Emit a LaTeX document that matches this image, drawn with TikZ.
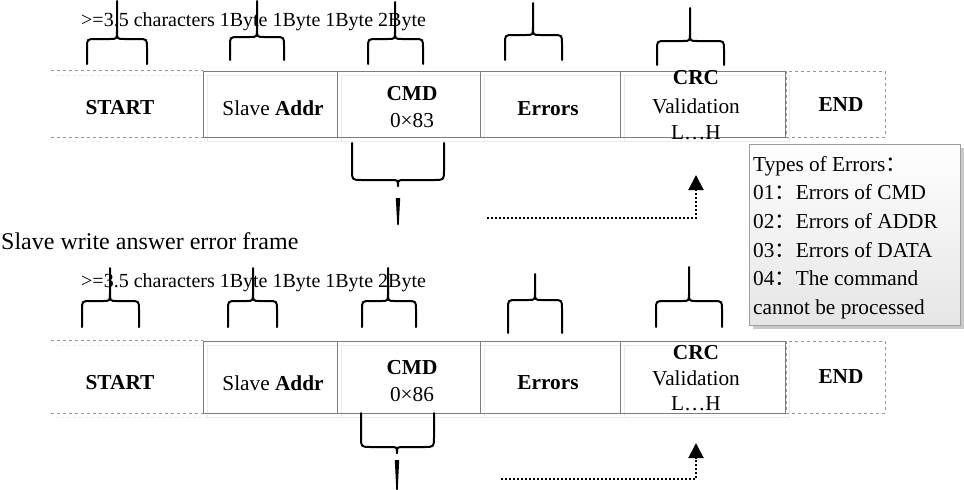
\documentclass[tikz,border=0pt]{standalone}
\usepackage{fontspec}
\setmainfont{Liberation Serif}
\newfontfamily\cjkfont{Noto Sans CJK SC}
\usetikzlibrary{arrows.meta,shadows,calc}
\newcommand\fwc{{\cjkfont ：}}
% upward brace: x1,x2,xm,ybottom,yarc,ytop
\newcommand\upbrace[6]{%
  \draw[bracestyle] (#1,#4) -- (#1,#5+9) .. controls (#1,#5) .. (#1+9,#5) -- (#3-7,#5) .. controls (#3,#5) .. (#3,#5-8) -- (#3,#6);
  \draw[bracestyle] (#2,#4) -- (#2,#5+9) .. controls (#2,#5) .. (#2-9,#5) -- (#3+7,#5) .. controls (#3,#5) .. (#3,#5-8);}
% downward brace: x1,x2,xm,ytop,yarc,ystem1,ystem2
\newcommand\downbrace[7]{%
  \draw[bracestyle] (#1,#4) -- (#1,#5-10) .. controls (#1,#5) .. (#1+10,#5) -- (#3-7,#5) .. controls (#3,#5) .. (#3,#5+6);
  \draw[bracestyle] (#2,#4) -- (#2,#5-10) .. controls (#2,#5) .. (#2-10,#5) -- (#3+7,#5) .. controls (#3,#5) .. (#3,#5+6);
  \fill (#3-2.2,#6) -- (#3+2.2,#6) -- (#3+0.7,#7) -- (#3-0.7,#7) -- cycle;}
\definecolor{framegray}{RGB}{125,125,125}
\definecolor{dashgray}{RGB}{150,150,150}
\definecolor{ghostgray}{RGB}{236,236,236}
\begin{document}
\begin{tikzpicture}[x=1pt,y=-1pt,
  field/.style={draw=framegray, line width=1pt, inner sep=0pt},
  endfield/.style={draw=dashgray, dashed, line width=1pt, inner sep=0pt},
  startfield/.style={inner sep=0pt},
  lbl/.style={inner sep=0pt, font=\fontsize{21.3}{25}\selectfont, align=center},
  hdr/.style={inner sep=0pt, anchor=west, font=\fontsize{20}{24}\selectfont},
  bracestyle/.style={line width=2pt, line cap=round, line join=round},
  dotarrow/.style={line width=2pt, dotted, -{Triangle[length=15pt,width=15pt]}},
  ghost/.style={draw=ghostgray, line width=1pt},
  errbox/.style={draw=gray!75, line width=1pt, top color=white, bottom color=gray!20,
    drop shadow={shadow xshift=3pt, shadow yshift=-3pt, fill=gray!60, opacity=0.7}},
]
\useasboundingbox (0,0) rectangle (964,490);

% ---------- ghost offset copies of the frames ----------
\foreach \yt/\yb in {75/141, 345/417}{
  \draw[ghost] (207,\yt) rectangle (789,\yb);
  \draw[ghost] (341,\yt) -- (341,\yb);
  \draw[ghost] (484,\yt) -- (484,\yb);
  \draw[ghost] (624,\yt) -- (624,\yb);
  \draw[ghost, dashed] (55,\yt) -- (207,\yt);
  \draw[ghost, dashed] (55,\yb) -- (207,\yb);
}

% ================= ROW 1 =================
\node[hdr] (h1) at (81,22) {>=3.5 characters 1Byte 1Byte 1Byte 2Byte};

\node[startfield, minimum width=152pt, minimum height=66pt] (st1) at (127,104) {};
\draw[dashgray, dashed, line width=1pt] (st1.north west) -- (st1.north east);
\draw[dashgray, dashed, line width=1pt] (st1.south west) -- (st1.south east);
\node[field, minimum width=134pt, minimum height=66pt] (sa1) at (270,104) {};
\node[field, minimum width=143pt, minimum height=66pt] (cmd1) at (408.5,104) {};
\node[field, minimum width=140pt, minimum height=66pt] (err1) at (550,104) {};
\node[field, minimum width=165pt, minimum height=66pt] (crc1) at (702.5,104) {};
\node[endfield, minimum width=99pt, minimum height=66pt] (end1) at (835.5,104) {};

\node[lbl] (tst1) at (120,108) {\textbf{START}};
\node[lbl] (tsa1) at (273,108) {Slave \textbf{Addr}};
\node[lbl] (tcmd1) at (412,94) {\textbf{CMD}};
\node[lbl] (tcmdv1) at (412,121) {0×83};
\node[lbl] (terr1) at (548,109) {\textbf{Errors}};
\node[lbl] (tcrc1) at (696,78) {\textbf{CRC}};
\node[lbl] (tval1) at (696,106) {Validation};
\node[lbl] (tlh1) at (696,133) {L…H};
\node[lbl] (tend1) at (841,105) {\textbf{END}};

\upbrace{87}{147}{117}{64}{39}{1}
\upbrace{230}{284}{257}{60}{37}{1}
\upbrace{368}{423}{395}{64}{39}{2}
\upbrace{505}{562}{533}{60}{35}{3}
\upbrace{657}{724}{690}{65}{41}{8}

\downbrace{352}{444}{398}{143}{180}{198}{225}

\coordinate (d1s) at (487,218);
\coordinate (d1t) at (696,175);
\draw[dotarrow] (d1s) -| (d1t);

% ---------- error types box ----------
\node[errbox, minimum width=211pt, minimum height=181pt, anchor=north west] (ebox) at (749,144) {};
\node[anchor=north west, inner sep=0pt, align=left, font=\fontsize{21.3}{28.6}\selectfont] (etext) at (753,156)
 {Types of Errors\fwc\\
  01\fwc Errors of CMD\\
  02\fwc Errors of ADDR\\
  03\fwc Errors of DATA\\
  04\fwc The command\\
  cannot be processed};

% ================= ROW 2 =================
\node[hdr, font=\fontsize{24}{28}\selectfont] (title2) at (1,241) {Slave write answer error frame};
\node[hdr] (h2) at (81,283) {>=3.5 characters 1Byte 1Byte 1Byte 2Byte};

\node[startfield, minimum width=152pt, minimum height=72pt] (st2) at (127,377) {};
\draw[dashgray, dashed, line width=1pt] (st2.north west) -- (st2.north east);
\draw[dashgray, dashed, line width=1pt] (st2.south west) -- (st2.south east);
\node[field, minimum width=134pt, minimum height=72pt] (sa2) at (270,377) {};
\node[field, minimum width=143pt, minimum height=72pt] (cmd2) at (408.5,377) {};
\node[field, minimum width=140pt, minimum height=72pt] (err2) at (550,377) {};
\node[field, minimum width=165pt, minimum height=72pt] (crc2) at (702.5,377) {};
\node[endfield, minimum width=99pt, minimum height=72pt] (end2) at (835.5,377) {};

\node[lbl] (tst2) at (120,383) {\textbf{START}};
\node[lbl] (tsa2) at (273,383) {Slave \textbf{Addr}};
\node[lbl] (tcmd2) at (412,368) {\textbf{CMD}};
\node[lbl] (tcmdv2) at (412,395) {0×86};
\node[lbl] (terr2) at (548,383) {\textbf{Errors}};
\node[lbl] (tcrc2) at (696,353) {\textbf{CRC}};
\node[lbl] (tval2) at (696,378) {Validation};
\node[lbl] (tlh2) at (696,404) {L…H};
\node[lbl] (tend2) at (841,377) {\textbf{END}};

\upbrace{82}{139}{110}{327}{301}{268}
\upbrace{228}{277}{253}{327}{301}{268}
\upbrace{362}{416}{388}{327}{301}{268}
\upbrace{508}{562}{535}{333}{300}{274}
\upbrace{656}{722}{689}{327}{301}{267}

\downbrace{361}{434}{397}{413}{447}{460}{490}

\coordinate (d2s) at (501,479);
\coordinate (d2t) at (696,443);
\draw[dotarrow] (d2s) -| (d2t);
\end{tikzpicture}
\end{document}
